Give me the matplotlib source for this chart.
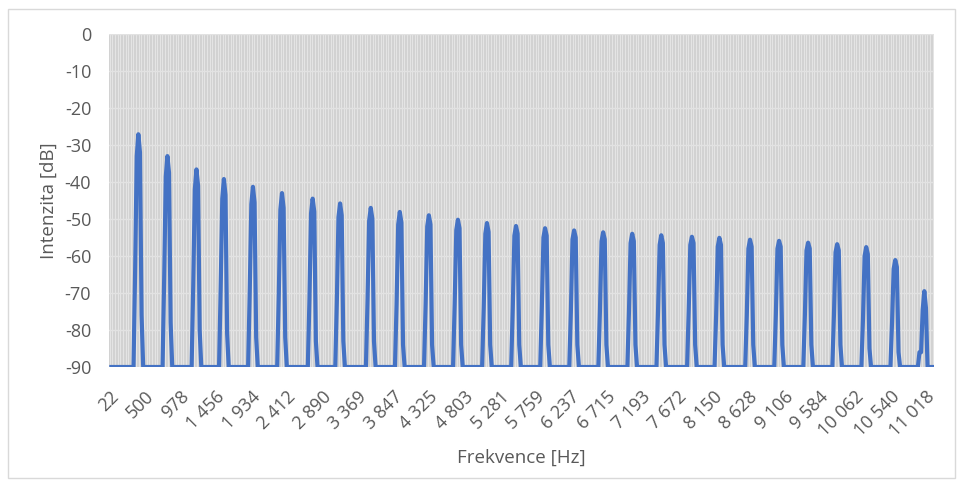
import numpy as np
import matplotlib
matplotlib.use("Agg")
import matplotlib.pyplot as plt
from matplotlib.patches import Rectangle

# ---- data ----
n_bins = 512                      # number of frequency categories
floor_db = -90.0                  # spectrum floor
tick_every = 22                   # category label interval
tick_labels = ["22", "500", "978", "1 456", "1 934", "2 412", "2 890", "3 369",
               "3 847", "4 325", "4 803", "5 281", "5 759", "6 237", "6 715",
               "7 193", "7 672", "8 150", "8 628", "9 106", "9 584", "10 062",
               "10 540", "11 018"]

peak_bins = [18, 36, 54, 71, 89, 107, 126, 143, 162, 180, 198, 216, 234, 252,
             270, 288, 306, 324, 342, 361, 378, 397, 415, 433, 451, 469, 487, 505]
peak_db = [-27.1, -33.0, -36.6, -39.2, -41.3, -43.0, -44.5, -45.8, -47.0, -48.1,
           -49.0, -50.2, -51.1, -51.9, -52.5, -53.1, -53.6, -54.0, -54.4, -54.8,
           -55.1, -55.6, -55.9, -56.4, -56.8, -57.6, -61.1, -69.5]
left_shoulder_db = [-33.0, -38.5, -42.0, -44.5, -46.0, -47.5, -48.5, -49.5, -50.5, -51.5,
                    -52.0, -53.0, -54.0, -54.5, -55.0, -55.5, -56.0, -56.5, -57.0, -57.0,
                    -57.5, -58.0, -58.0, -58.5, -59.0, -60.0, -63.5, -74.5]
right_shoulder_db = [-32.0, -37.5, -41.0, -43.5, -45.5, -47.0, -48.0, -49.0, -50.0, -51.0,
                     -51.5, -52.5, -53.5, -54.0, -54.5, -55.0, -55.5, -56.0, -56.5, -56.5,
                     -57.0, -57.5, -57.5, -58.0, -58.5, -59.5, -63.0, -74.0]
left_foot_db = [-64, -66, -68, -69, -70, -71, -72, -72, -72, -73, -73, -73, -74, -74,
                -74, -75, -75, -75, -75, -75, -76, -76, -76, -76, -76, -77, -78, -86]
right_foot_db = [-76, -78, -80, -81, -82, -82, -83, -83, -83, -84, -84, -84, -84, -84,
                 -84, -84, -84, -84, -84, -84, -84, -84, -84, -84, -84, -85, -86, -90]
extra_bins = [502]               # small side bump before the last peak
extra_db = [-86.0]

# ---- build series ----
values = np.full(n_bins, floor_db)
for b, p, ls, rs, lf, rf in zip(peak_bins, peak_db, left_shoulder_db,
                                right_shoulder_db, left_foot_db, right_foot_db):
    values[b] = p
    values[b - 1] = ls
    values[b + 1] = rs
    values[b - 2] = lf
    if b + 2 < n_bins:
        values[b + 2] = rf
for b, v in zip(extra_bins, extra_db):
    values[b] = v
x = np.arange(n_bins)

# ---- figure ----
W, H = 963, 486
plt.rcParams['font.family'] = ['Open Sans', 'DejaVu Sans']
plt.rcParams['axes.unicode_minus'] = False
fig = plt.figure(figsize=(W / 100, H / 100), dpi=100)

fig.patches.append(Rectangle((8 / W, 1 - 478 / H), (955 - 8) / W, (478 - 9) / H,
                             transform=fig.transFigure, fill=False,
                             edgecolor='#d9d9d9', linewidth=1.0))

ax = fig.add_axes([109.3 / W, 1 - 367 / H, (934 - 109.3) / W, (367 - 34) / H])
ax.set_facecolor('#e6e6e6')

for xi in x:
    ax.axvline(xi, color='#d2d2d2', linewidth=0.75, zorder=0)
for yv in range(-80, 1, 10):
    ax.axhline(yv, color='#e2e2e2', linewidth=1.0, zorder=0.5)

ax.plot(x, values, color='#4472C4', linewidth=3.0, solid_joinstyle='round',
        solid_capstyle='butt', zorder=3)

ax.set_xlim(0, n_bins - 1)
ax.set_ylim(-90, 0)
ax.set_yticks(range(-90, 1, 10))
ax.set_xticks(np.arange(0, n_bins, tick_every)[:len(tick_labels)])
ax.set_xticklabels(tick_labels, rotation=45, ha='right', va='top',
                   rotation_mode='anchor')
for s in ax.spines.values():
    s.set_visible(False)
ax.tick_params(axis='both', length=0, colors='#595959', labelsize=13)
ax.tick_params(axis='y', pad=13)
ax.tick_params(axis='x', pad=15)

ax.set_xlabel('Frekvence [Hz]', fontsize=13.5, color='#595959')
ax.set_ylabel('Intenzita [dB]', fontsize=13.5, color='#595959')
ax.xaxis.set_label_coords(0.5, -0.245)
ax.yaxis.set_label_coords(-0.063, 0.5)

fig.savefig('out.png', dpi=100)
